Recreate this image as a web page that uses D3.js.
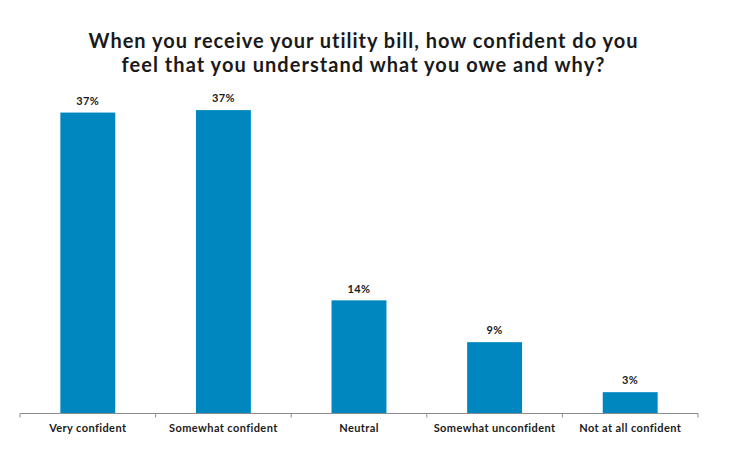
<!DOCTYPE html>
<html lang="en">
<head>
    <meta charset="UTF-8">
    <title>utility bill confidence</title>
    <script src="https://d3js.org/d3.v7.min.js"></script>
    <style>
        body { margin: 0; background: #fff; }
        text { font-family: "Lato", "Open Sans", sans-serif; fill: #1a1a1a; }
    </style>
</head>
<body>
    <svg></svg>
    <script>
        const categories = ["Very confident", "Somewhat confident", "Neutral", "Somewhat unconfident", "Not at all confident"];
        const values = [36.7, 37.0, 13.8, 8.7, 2.6];
        const valueLabels = ["37%", "37%", "14%", "9%", "3%"];
        const titleLines = [
            "When you receive your utility bill, how confident do you",
            "feel that you understand what you owe and why?"
        ];

        const svgWidth = 737;
        const svgHeight = 467;
        const left = 20, right = 698;
        const baseline = 413.5;

        const svg = d3.select('svg')
            .attr("width", svgWidth)
            .attr("height", svgHeight);

        const xScale = d3.scaleBand()
            .domain(categories)
            .range([left, right])
            .paddingInner(0.595)
            .paddingOuter(0.2975);

        const yScale = d3.scaleLinear()
            .domain([0, 40])
            .range([baseline, baseline - 328]);

        // stretch a text to a given width with letter spacing (font is narrower than the original)
        function fitWidth(el, target) {
            const n = el.text().length;
            const w = el.node().getComputedTextLength();
            el.attr("letter-spacing", ((target - w) / (n - 1)).toFixed(3));
        }

        const lineWidths = [549, 483];
        titleLines.forEach((t, i) => {
            const el = svg.append("text")
                .text(t)
                .attr("x", 363.5)
                .attr("y", 47.7 + i * 24)
                .attr("text-anchor", "middle")
                .attr("font-weight", 700)
                .attr("font-size", 20);
            fitWidth(el, lineWidths[i]);
        });

        svg.selectAll("rect")
            .data(values)
            .enter()
            .append("rect")
            .attr("x", (d, i) => xScale(categories[i]))
            .attr("y", d => yScale(d))
            .attr("width", xScale.bandwidth())
            .attr("height", d => baseline - yScale(d))
            .attr("fill", "#0087bf");

        svg.selectAll(".val")
            .data(values)
            .enter()
            .append("text")
            .attr("class", "val")
            .text((d, i) => valueLabels[i])
            .attr("x", (d, i) => xScale(categories[i]) + xScale.bandwidth() / 2)
            .attr("y", d => yScale(d) - 7.7)
            .attr("text-anchor", "middle")
            .attr("font-weight", 700)
            .attr("font-size", 11)
            .attr("letter-spacing", 0.4);

        // axis with ticks on the band boundaries
        const step = xScale.step();
        const edges = d3.range(categories.length + 1).map(i => left + i * step);
        const axis = svg.append("g").attr("stroke", "#8c8c8c").attr("stroke-width", 1);
        axis.append("line")
            .attr("x1", left).attr("x2", right)
            .attr("y1", baseline).attr("y2", baseline);
        axis.selectAll("line.tick")
            .data(edges)
            .enter()
            .append("line")
            .attr("class", "tick")
            .attr("x1", d => d).attr("x2", d => d)
            .attr("y1", baseline).attr("y2", baseline + 4);

        svg.selectAll(".cat")
            .data(categories)
            .enter()
            .append("text")
            .attr("class", "cat")
            .text(d => d)
            .attr("x", d => xScale(d) + xScale.bandwidth() / 2)
            .attr("y", 431.5)
            .attr("text-anchor", "middle")
            .attr("font-weight", 700)
            .attr("font-size", 11)
            .attr("letter-spacing", 0.4);
    </script>
</body>
</html>
